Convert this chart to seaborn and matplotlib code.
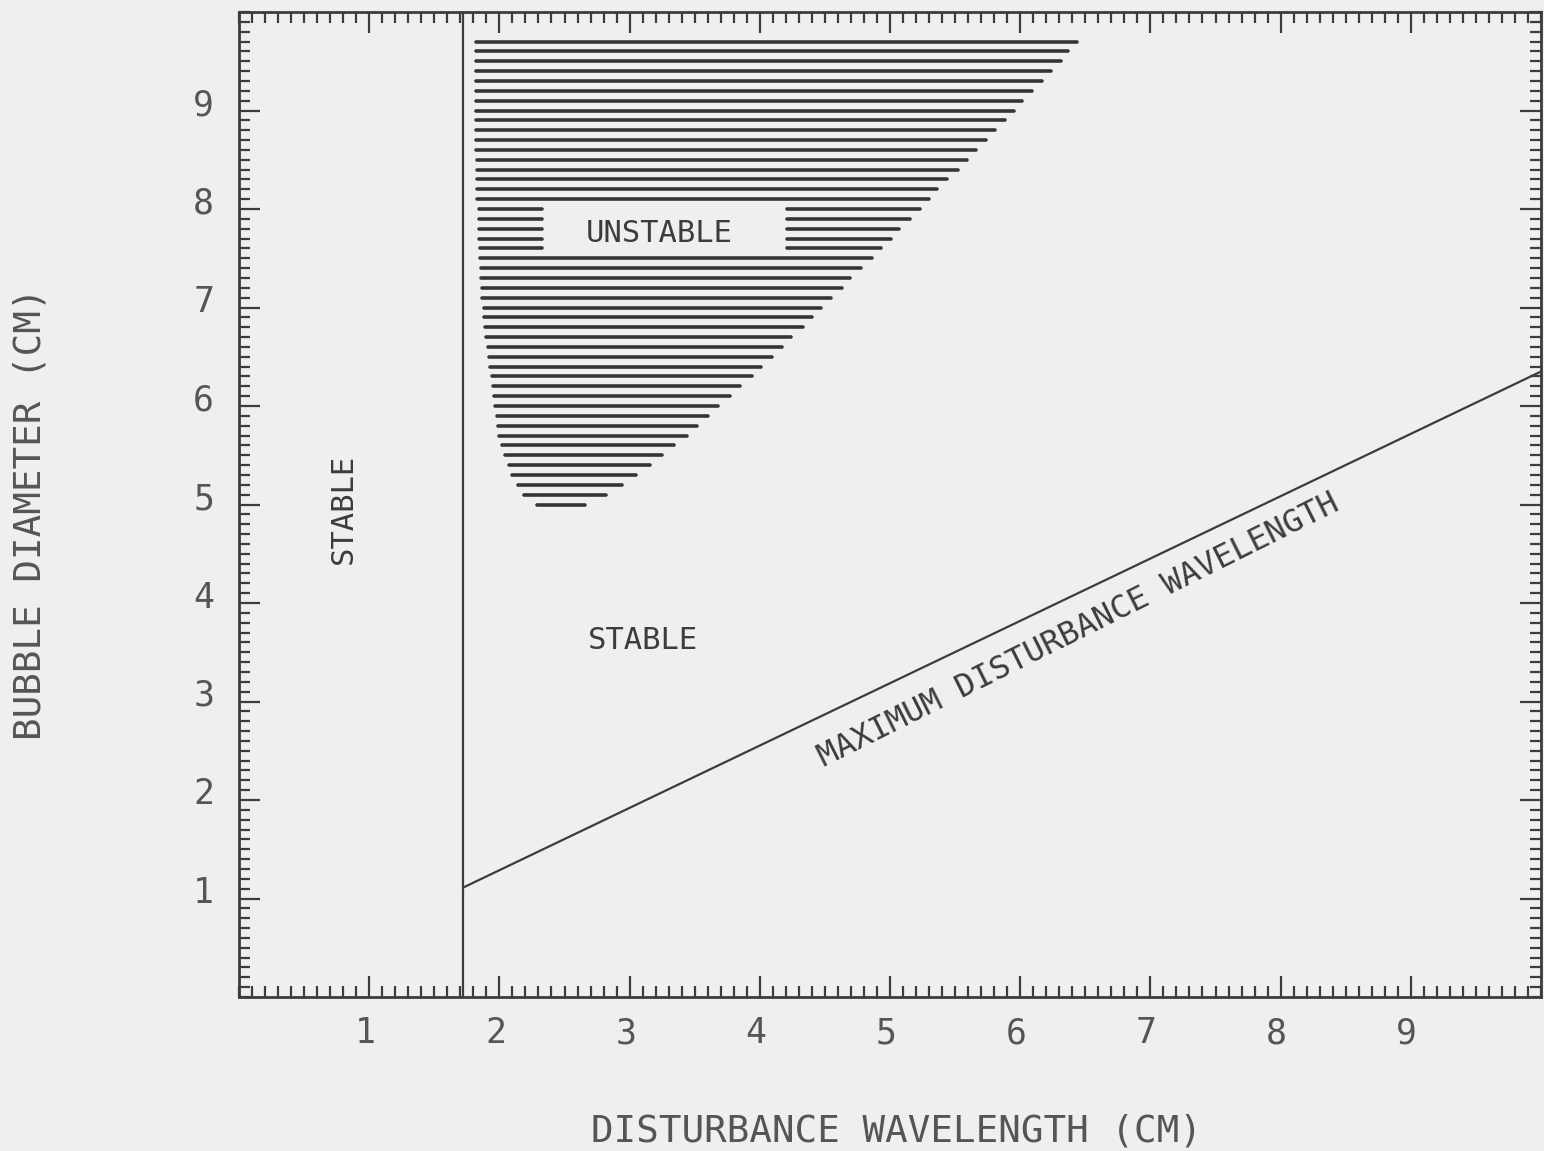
import matplotlib
matplotlib.use("Agg")
import matplotlib.pyplot as plt
import matplotlib.transforms as mtransforms
from matplotlib.ticker import MultipleLocator
import numpy as np
import pandas as pd
import seaborn as sns

# Hatched unstable region: one horizontal stroke per bubble diameter level
hatch_levels = [5.0, 5.1, 5.2, 5.3, 5.4, 5.5, 5.6, 5.7, 5.8, 5.9,
                6.0, 6.1, 6.2, 6.3, 6.4, 6.5, 6.6, 6.7, 6.8, 6.9,
                7.0, 7.1, 7.2, 7.3, 7.4, 7.5, 7.6, 7.7, 7.8, 7.9,
                8.0, 8.1, 8.2, 8.3, 8.4, 8.5, 8.6, 8.7, 8.8, 8.9,
                9.0, 9.1, 9.2, 9.3, 9.4, 9.5, 9.6, 9.7]
hatch_left = [2.29, 2.19, 2.14, 2.10, 2.07, 2.04, 2.02, 2.00, 1.99, 1.98,
              1.97, 1.96, 1.95, 1.94, 1.93, 1.92, 1.91, 1.90, 1.89, 1.88,
              1.88, 1.87, 1.87, 1.86, 1.86, 1.85, 1.85, 1.84, 1.84, 1.84,
              1.84, 1.83, 1.83, 1.83, 1.83, 1.83, 1.82, 1.82, 1.82, 1.82,
              1.82, 1.82, 1.82, 1.82, 1.82, 1.82, 1.82, 1.82]
hatch_right = [2.66, 2.82, 2.94, 3.05, 3.16, 3.25, 3.34, 3.44, 3.52, 3.60,
               3.68, 3.77, 3.85, 3.94, 4.01, 4.09, 4.17, 4.24, 4.33, 4.40,
               4.47, 4.55, 4.63, 4.69, 4.78, 4.86, 4.93, 5.01, 5.07, 5.15,
               5.23, 5.30, 5.36, 5.44, 5.52, 5.59, 5.66, 5.74, 5.81, 5.88,
               5.95, 6.01, 6.09, 6.17, 6.24, 6.31, 6.37, 6.44]

# Blank window left around the UNSTABLE caption
label_gap_levels = [7.6, 7.7, 7.8, 7.9, 8.0]
label_gap_x = [2.33, 4.21]

# Minimum stable wavelength (vertical boundary)
min_wavelength = 1.72

# Maximum disturbance wavelength line
maxwave_x = [1.72, 10.0]
maxwave_y = [1.11, 6.35]

x_ticks = [1, 2, 3, 4, 5, 6, 7, 8, 9]
y_ticks = [1, 2, 3, 4, 5, 6, 7, 8, 9]

INK = "#3c3c3c"
BG = "#efefef"

sns.set_theme(style="ticks")
plt.rcParams["font.family"] = ["DejaVu Sans Mono", "DejaVu Sans"]
plt.rcParams["figure.facecolor"] = BG
plt.rcParams["axes.facecolor"] = BG

fig = plt.figure(figsize=(15.44, 11.51), dpi=100)
ax = fig.add_axes([239 / 1544, 154 / 1151, 1302 / 1544, 985 / 1151])

# Build the hatch segments as a long table, splitting rows around the caption
rows = []
seg = 0
for lvl, xl, xr in zip(hatch_levels, hatch_left, hatch_right):
    if any(abs(lvl - g) < 1e-6 for g in label_gap_levels):
        pieces = [(xl, label_gap_x[0]), (label_gap_x[1], xr)]
    else:
        pieces = [(xl, xr)]
    for a, b in pieces:
        rows.append({"seg": seg, "x": a, "y": lvl})
        rows.append({"seg": seg, "x": b, "y": lvl})
        seg += 1
hatch_df = pd.DataFrame(rows)

sns.lineplot(data=hatch_df, x="x", y="y", units="seg", estimator=None,
             sort=False, color="#353535", linewidth=2.6, ax=ax, legend=False)

# Vertical boundary
sns.lineplot(x=[min_wavelength, min_wavelength], y=[0, 10], color=INK,
             linewidth=1.6, ax=ax, estimator=None, sort=False)

# Maximum disturbance wavelength line
sns.lineplot(x=maxwave_x, y=maxwave_y, color=INK, linewidth=1.6, ax=ax,
             estimator=None, sort=False)

ax.set_xlim(0, 10)
ax.set_ylim(0, 10)

ax.xaxis.set_major_locator(plt.FixedLocator(x_ticks))
ax.yaxis.set_major_locator(plt.FixedLocator(y_ticks))
ax.xaxis.set_minor_locator(MultipleLocator(0.1))
ax.yaxis.set_minor_locator(MultipleLocator(0.1))
ax.set_xticklabels([str(t) for t in x_ticks])
ax.set_yticklabels([str(t) for t in y_ticks])

ax.tick_params(which="both", direction="in", top=True, right=True,
               color=INK, width=1.6)
ax.tick_params(which="major", length=15)
ax.tick_params(which="minor", length=8)
ax.tick_params(axis="x", which="major", labelsize=25, pad=14, labelcolor="#555555")
ax.tick_params(axis="y", which="major", labelsize=25, pad=18, labelcolor="#555555")

# Nudge tick labels the way the plotter placed them
dy = mtransforms.ScaledTranslation(0, 9 / 100, fig.dpi_scale_trans)
for lab in ax.get_yticklabels():
    lab.set_transform(lab.get_transform() + dy)
dx = mtransforms.ScaledTranslation(-4 / 100, 0, fig.dpi_scale_trans)
for lab in ax.get_xticklabels():
    lab.set_transform(lab.get_transform() + dx)

for side in ["left", "right", "top", "bottom"]:
    ax.spines[side].set_visible(True)
    ax.spines[side].set_color(INK)
    ax.spines[side].set_linewidth(2.0)

ax.set_xlabel("DISTURBANCE WAVELENGTH (CM)", fontsize=27, color="#555555")
ax.set_ylabel("BUBBLE DIAMETER (CM)", fontsize=27, color="#555555")
ax.xaxis.set_label_coords(0.505, -0.118)
ax.yaxis.set_label_coords(-0.146, 0.491)

ax.text(0.80, 4.96, "STABLE", rotation=90, ha="center", va="center",
        fontsize=22, color=INK)
ax.text(3.10, 3.62, "STABLE", ha="center", va="center", fontsize=22, color=INK)
ax.text(3.23, 7.75, "UNSTABLE", ha="center", va="center", fontsize=22, color=INK)
ax.text(6.45, 3.72, "MAXIMUM DISTURBANCE WAVELENGTH", rotation=26.5,
        rotation_mode="anchor", ha="center", va="center", fontsize=23, color=INK)

fig.savefig("out.png", dpi=100, facecolor=BG)
